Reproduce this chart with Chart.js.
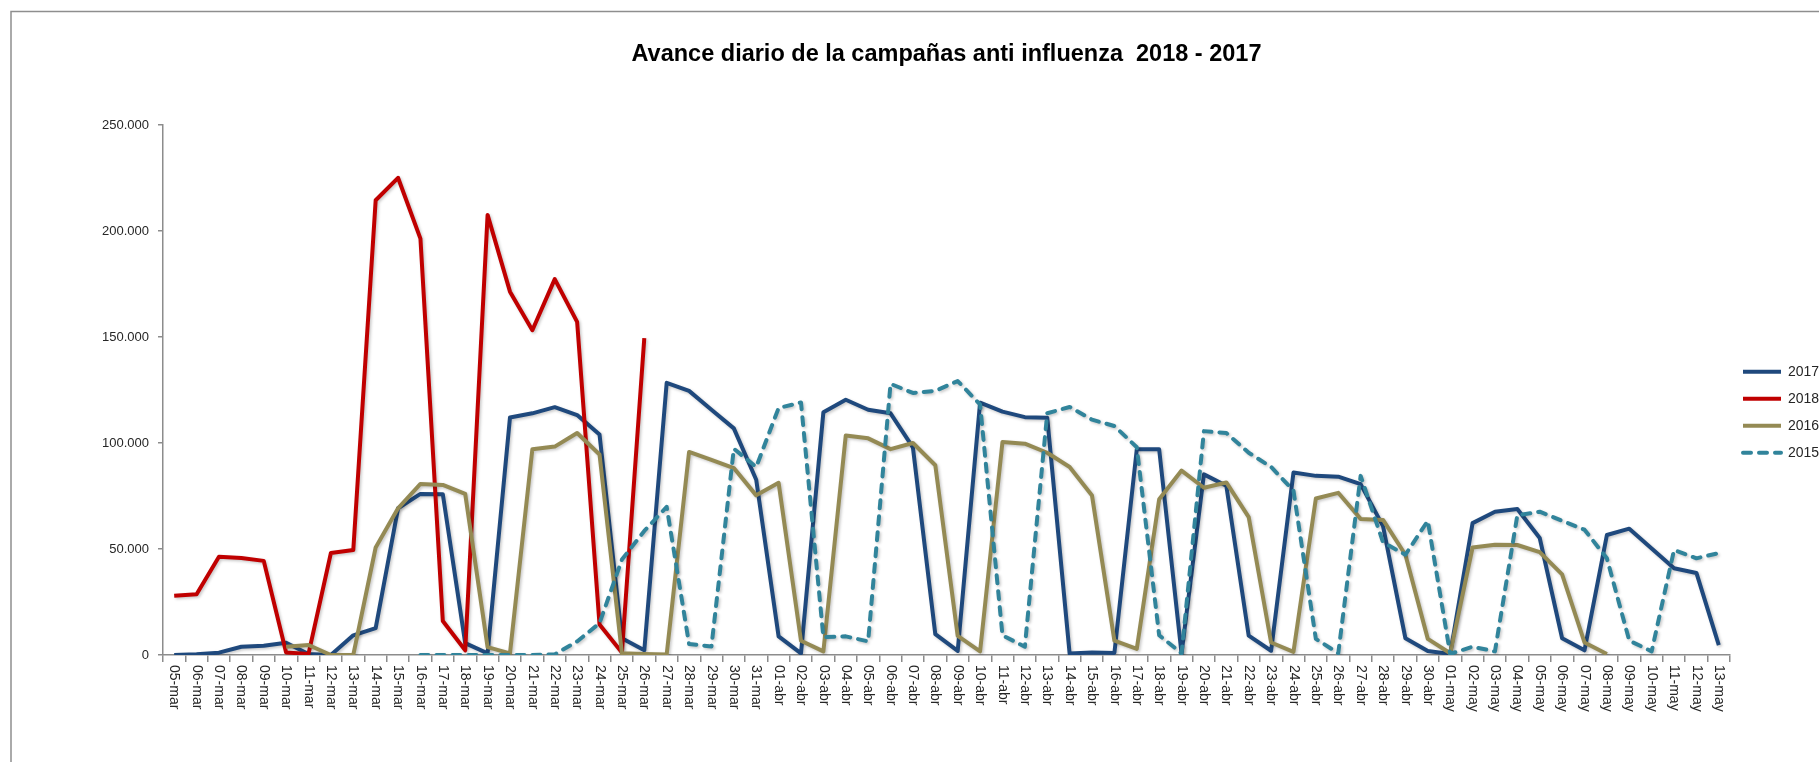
<!DOCTYPE html>
<html>
<head>
<meta charset="utf-8">
<script src="https://cdn.jsdelivr.net/npm/chart.js@4"></script>
<style>
  html, body { margin: 0; padding: 0; background: #fff; }
  #wrap { position: relative; width: 1819px; height: 762px; }
</style>
</head>
<body>
<div id="wrap"><canvas id="campaignChart"></canvas></div>
<script>
const categories = [
  '05-mar', '06-mar', '07-mar', '08-mar', '09-mar', '10-mar', '11-mar', '12-mar', '13-mar', '14-mar',
  '15-mar', '16-mar', '17-mar', '18-mar', '19-mar', '20-mar', '21-mar', '22-mar', '23-mar', '24-mar',
  '25-mar', '26-mar', '27-mar', '28-mar', '29-mar', '30-mar', '31-mar', '01-abr', '02-abr', '03-abr',
  '04-abr', '05-abr', '06-abr', '07-abr', '08-abr', '09-abr', '10-abr', '11-abr', '12-abr', '13-abr',
  '14-abr', '15-abr', '16-abr', '17-abr', '18-abr', '19-abr', '20-abr', '21-abr', '22-abr', '23-abr',
  '24-abr', '25-abr', '26-abr', '27-abr', '28-abr', '29-abr', '30-abr', '01-may', '02-may', '03-may',
  '04-may', '05-may', '06-may', '07-may', '08-may', '09-may', '10-may', '11-may', '12-may', '13-may'
];

const seriesNames = ['2017', '2018', '2016', '2015'];

const values2017 = [
  0, 300, 1100, 3900, 4400, 5800, 500, 0, 9300, 12700,
  69200, 76000, 75800, 5600, 800, 112000, 114000, 116900, 113200, 104000,
  7900, 2200, 128400, 124600, 115700, 106900, 82700, 8800, 800, 114500,
  120400, 115700, 114000, 97900, 9800, 1900, 119000, 114800, 112200, 111900,
  700, 1200, 1000, 97000, 97000, 700, 85200, 79800, 9100, 2000,
  86100, 84500, 84100, 80600, 60800, 7900, 1900, 500, 62200, 67600,
  68900, 55200, 7900, 2200, 56600, 59600, 50200, 40900, 38700, 4700
];

const values2018 = [
  28000, 28700, 46300, 45800, 44400, 1200, 500, 48100, 49500, 214500,
  225100, 196400, 16000, 2200, 207600, 171400, 153200, 177300, 157100, 14400,
  1200, 149500, null, null, null, null, null, null, null, null,
  null, null, null, null, null, null, null, null, null, null,
  null, null, null, null, null, null, null, null, null, null,
  null, null, null, null, null, null, null, null, null, null,
  null, null, null, null, null, null, null, null, null, null
];

const values2016 = [
  null, null, null, null, null, 3900, 4700, 0, 0, 50700,
  69200, 80700, 80200, 76000, 3700, 800, 97100, 98300, 104700, 94600,
  800, 500, 200, 95800, 92000, 88200, 75300, 81200, 6700, 1700,
  103500, 102200, 97100, 100000, 89500, 9000, 1700, 100500, 99700, 95400,
  88700, 75200, 6800, 2900, 73500, 87000, 78900, 81400, 65000, 5900,
  1500, 73800, 76500, 64200, 63700, 47300, 7600, 800, 50700, 52000,
  51900, 48500, 38000, 5900, 500, null, null, null, null, null
];

const values2015 = [
  null, null, null, null, null, null, null, null, null, null,
  null, 0, 0, 0, 0, 0, 0, 300, 6400, 15000,
  45000, 58500, 69900, 5200, 4000, 97300, 88700, 116500, 119100, 8400,
  8800, 6400, 127900, 123600, 124600, 129200, 118200, 9300, 3900, 114000,
  117000, 111000, 108000, 98000, 9300, 800, 105600, 104700, 95400, 88700,
  77500, 7600, 800, 84500, 53200, 47300, 63300, 500, 3900, 1700,
  65900, 67600, 63300, 59100, 45600, 6800, 1700, 49500, 45600, 48100
];

const FONT = '"Liberation Sans", Arial, sans-serif';
const AXIS_GRAY = '#8c8c8c';
const TEXT_COLOR = '#262626';
const LINE_W = 4;

Chart.defaults.font.family = FONT;
Chart.defaults.color = TEXT_COLOR;

// white background + the cut-off chart frame (top and left edges only)
const framePlugin = {
  id: 'frame',
  beforeDraw(chart) {
    const ctx = chart.ctx;
    ctx.save();
    ctx.fillStyle = '#fff';
    ctx.fillRect(0, 0, chart.width, chart.height);
    ctx.strokeStyle = '#8e8e8e';
    ctx.lineWidth = 1.5;
    ctx.beginPath();
    ctx.moveTo(11, chart.height);
    ctx.lineTo(11, 11.5);
    ctx.lineTo(chart.width, 11.5);
    ctx.stroke();
    ctx.restore();
  }
};

// soft shadow under the lines, like the spreadsheet version
const shadowPlugin = {
  id: 'lineShadow',
  beforeDatasetDraw(chart) {
    const ctx = chart.ctx;
    ctx.save();
    ctx.shadowColor = 'rgba(0, 0, 0, 0.22)';
    ctx.shadowBlur = 3;
    ctx.shadowOffsetX = 1.5;
    ctx.shadowOffsetY = 1.5;
  },
  afterDatasetDraw(chart) {
    chart.ctx.restore();
  }
};

// x labels read top-to-bottom, so draw them here from the category scale
const xLabelPlugin = {
  id: 'xLabels',
  afterDraw(chart) {
    const ctx = chart.ctx;
    const xScale = chart.scales.x;
    ctx.save();
    ctx.font = '14px ' + FONT;
    ctx.fillStyle = TEXT_COLOR;
    ctx.textAlign = 'left';
    ctx.textBaseline = 'middle';
    xScale.ticks.forEach((t, i) => {
      const px = xScale.getPixelForTick(i);
      ctx.save();
      ctx.translate(px, xScale.top + 10);
      ctx.rotate(Math.PI / 2);
      ctx.fillText(xScale.getLabelForValue(t.value), 0, 0);
      ctx.restore();
    });
    ctx.restore();
  }
};

function lineSet(label, data, color, order, dash) {
  return {
    label: label,
    data: data,
    borderColor: color,
    backgroundColor: color,
    borderWidth: LINE_W,
    borderDash: dash || [],
    borderCapStyle: dash ? 'round' : 'butt',
    borderJoinStyle: 'round',
    pointRadius: 0,
    pointHoverRadius: 0,
    tension: 0,
    fill: false,
    spanGaps: false,
    order: order
  };
}

const ctx = document.getElementById('campaignChart');
new Chart(ctx, {
  type: 'line',
  data: {
    labels: categories,
    datasets: [
      lineSet(seriesNames[0], values2017, '#1f497d', 4),
      lineSet(seriesNames[1], values2018, '#c00000', 3),
      lineSet(seriesNames[2], values2016, '#948a54', 2),
      lineSet(seriesNames[3], values2015, '#31849b', 1, [8, 8])
    ]
  },
  options: {
    responsive: true,
    maintainAspectRatio: false,
    animation: false,
    layout: { padding: 0 },
    scales: {
      x: {
        type: 'category',
        offset: true,
        grid: {
          display: true,
          drawOnChartArea: false,
          drawTicks: true,
          tickLength: 7,
          color: AXIS_GRAY,
          lineWidth: 1.5,
          offset: true
        },
        border: { display: true, color: AXIS_GRAY, width: 1.5 },
        ticks: { display: false, autoSkip: false },
        afterFit(scale) { scale.height = 107; }
      },
      y: {
        min: 0,
        max: 250000,
        grid: {
          display: true,
          drawOnChartArea: false,
          drawTicks: true,
          tickLength: 5,
          color: AXIS_GRAY,
          lineWidth: 1.5
        },
        border: { display: true, color: AXIS_GRAY, width: 1.5 },
        ticks: {
          stepSize: 50000,
          padding: 9,
          color: TEXT_COLOR,
          font: { size: 13 },
          callback: v => String(v).replace(/\B(?=(\d{3})+(?!\d))/g, '.')
        },
        afterFit(scale) { scale.width = 163; }
      }
    },
    plugins: {
      title: {
        display: true,
        text: 'Avance diario de la campañas anti influenza  2018 - 2017',
        fullSize: false,
        color: '#000',
        font: { size: 23.5, weight: 'bold', family: FONT },
        padding: { top: 40, bottom: 56.8 }
      },
      legend: {
        display: true,
        position: 'right',
        align: 'center',
        maxWidth: 89,
        title: {
          display: true,
          text: ' ',
          font: { size: 10 },
          padding: { top: 25, bottom: 25.4 }
        },
        labels: {
          usePointStyle: true,
          pointStyle: 'line',
          pointStyleWidth: 38,
          padding: 13,
          color: TEXT_COLOR,
          font: { size: 14 },
          sort: (a, b) => a.datasetIndex - b.datasetIndex,
          generateLabels(chart) {
            const items = Chart.defaults.plugins.legend.labels.generateLabels(chart);
            return items.map(item => {
              const ds = chart.data.datasets[item.datasetIndex];
              item.lineDash = ds.borderDash;
              item.lineCap = ds.borderCapStyle;
              item.lineWidth = ds.borderWidth;
              item.strokeStyle = ds.borderColor;
              return item;
            });
          }
        }
      },
      tooltip: { enabled: false }
    }
  },
  plugins: [framePlugin, shadowPlugin, xLabelPlugin]
});
</script>
</body>
</html>
